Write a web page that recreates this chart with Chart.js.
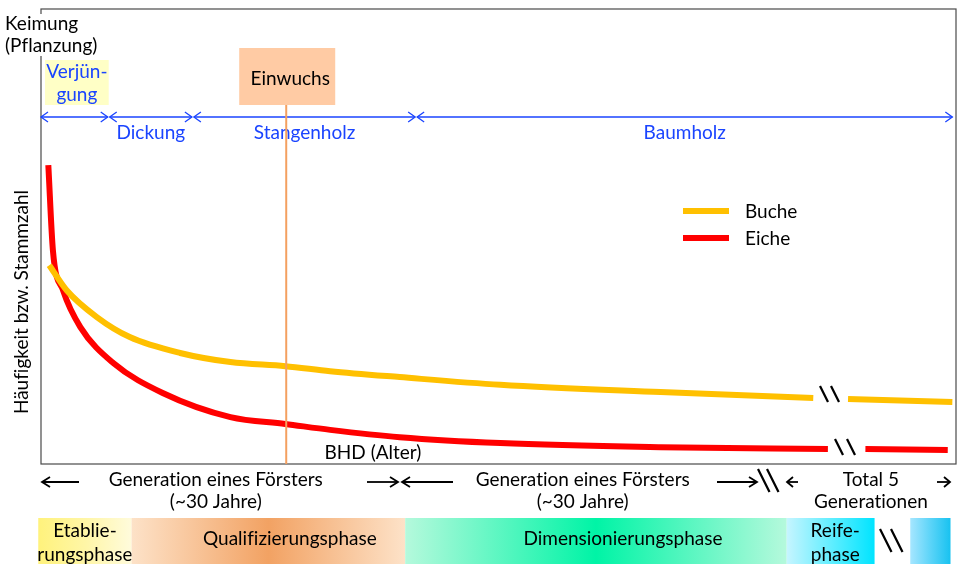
<!DOCTYPE html>
<html>
<head>
<meta charset="utf-8">
<script src="https://cdn.jsdelivr.net/npm/chart.js@4"></script>
<style>
  html, body { margin: 0; padding: 0; background: #fff; }
</style>
</head>
<body>
<canvas id="chart" width="962" height="564"></canvas>
<script>
// x: relative age (0 = Keimung, 100 = right edge), y: relative frequency (0..100)
// null marks the break (\\) in each curve
const xBuche = [0.9, 2.8, 6.1, 9.7, 15.2, 20.7, 26.7, 31.6, 39.2, 50.2, 67.7, 84.4, 86.3, 88.2, 99.6];
const buche  = [43.7, 38.2, 32.3, 27.9, 24.4, 22.4, 21.5, 20.4, 19.1, 17.4, 15.8, 14.5, null, 14.3, 13.6];
const xEiche = [0.8, 1.3, 2.4, 4.3, 7.9, 13.3, 20.7, 26.7, 31.6, 39.2, 50.2, 67.7, 86.0, 88.0, 90.1, 99.1];
const eiche  = [65.7, 47.0, 38.2, 30.1, 22.2, 15.6, 10.3, 8.8, 7.5, 5.9, 4.6, 3.7, 3.3, null, 3.3, 3.1];

// development stages (top, blue arrows) with borders in x units
const stages = ['Verjüngung', 'Dickung', 'Stangenholz', 'Baumholz'];
const stageBounds = [0, 7.4, 16.6, 41.0, 99.6];
const einwuchsX = 26.8;

// forest phases (bottom bars): label, extent, label centre
const phases = ['Etablie-\nrungsphase', 'Qualifizierungsphase', 'Dimensionierungsphase', 'Reife-\nphase', ''];
const phaseBounds = [[-0.3, 9.9], [9.9, 39.8], [39.8, 81.5], [81.5, 91.1], [95.0, 99.4]];
const phaseLabelX = [4.8, 27.2, 63.6, 86.8, 97.2];
const phaseColors = [
  ['#fff27c', '#fff6a6', '#fffbdc'],
  ['#fde2c8', '#f2a263', '#fde2c8'],
  ['#b5f9dc', '#00f4a6', '#b5f9dc'],
  ['#c6f5ff', '#62eeff', '#00e4ff'],
  ['#a6e6ff', '#5cd4f8', '#18c2f0'],
];

// forester generations (below the plot)
const generations = ['Generation eines Försters\n(~30 Jahre)', 'Generation eines Försters\n(~30 Jahre)', 'Total 5\nGenerationen'];

const FONT = '"Lato", "Noto Sans", sans-serif';
const SIZE = '19px ';
const BLUE = '#1a44ff';

function toPoints(xs, ys) {
  return xs.map((x, i) => ({x: x, y: ys[i]}));
}

function chevron(ctx, x, y, dir, w, h) {
  ctx.beginPath();
  ctx.moveTo(x - dir * w, y - h);
  ctx.lineTo(x, y);
  ctx.lineTo(x - dir * w, y + h);
  ctx.stroke();
}

function arrowLine(ctx, x1, x2, y, headLeft, headRight, w, h) {
  ctx.beginPath();
  ctx.moveTo(x1, y);
  ctx.lineTo(x2, y);
  ctx.stroke();
  if (headLeft) chevron(ctx, x1, y, -1, w, h);
  if (headRight) chevron(ctx, x2, y, 1, w, h);
}

function breakMark(ctx, x, y, h, gap) {
  ctx.save();
  ctx.strokeStyle = '#000';
  ctx.lineWidth = 2.2;
  for (const dx of [0, gap]) {
    ctx.beginPath();
    ctx.moveTo(x + dx, y);
    ctx.lineTo(x + dx + h * 0.5, y + h);
    ctx.stroke();
  }
  ctx.restore();
}

function multiText(ctx, text, x, y, lh) {
  const lines = text.split('\n');
  lines.forEach((l, i) => ctx.fillText(l, x, y + i * lh));
}

const decorations = {
  id: 'decorations',
  beforeDatasetsDraw(chart) {
    const ctx = chart.ctx;
    const xs = chart.scales.x;
    const a = chart.chartArea;
    ctx.save();
    ctx.textRendering = 'optimizeSpeed'; // no fi / ti ligatures

    // frame
    ctx.strokeStyle = '#4a4a4a';
    ctx.lineWidth = 1.2;
    ctx.strokeRect(a.left, a.top, a.right - a.left, a.bottom - a.top);

    // Keimung label on the y axis line
    ctx.fillStyle = '#fff';
    ctx.fillRect(3, 14, 100, 42);
    ctx.fillStyle = '#000';
    ctx.font = SIZE + FONT;
    ctx.textAlign = 'left';
    ctx.textBaseline = 'middle';
    ctx.fillText('Keimung', 5, 24);
    ctx.fillText('(Pflanzung)', 5, 46);

    // Verjüngung box
    const v0 = xs.getPixelForValue(stageBounds[0]);
    const v1 = xs.getPixelForValue(stageBounds[1]);
    ctx.fillStyle = '#ffffc6';
    ctx.fillRect(v0 + 4, 60, v1 - v0 - 4, 45);
    ctx.fillStyle = BLUE;
    ctx.textAlign = 'center';
    ctx.fillText('Verjün-', (v0 + v1) / 2 + 2, 72);
    ctx.fillText('gung', (v0 + v1) / 2 + 2, 95);

    // blue stage arrows
    ctx.strokeStyle = BLUE;
    ctx.lineWidth = 1.3;
    for (let i = 0; i < stages.length; i++) {
      const p0 = xs.getPixelForValue(stageBounds[i]) + (i ? 1 : 0);
      const p1 = xs.getPixelForValue(stageBounds[i + 1]) - (i < stages.length - 1 ? 1 : 0);
      arrowLine(ctx, p0, p1, 117, true, true, 7, 5);
      if (i > 0) {
        ctx.fillText(stages[i], (p0 + p1) / 2, 133);
      }
    }

    // Einwuchs box
    const ex = xs.getPixelForValue(einwuchsX);
    ctx.fillStyle = '#ffcba4';
    ctx.fillRect(ex - 47, 48, 96, 57);
    ctx.fillStyle = '#000';
    ctx.fillText('Einwuchs', ex + 4, 79);

    // BHD label
    ctx.fillText('BHD (Alter)', 373, 453);

    // y axis title
    ctx.save();
    ctx.translate(22, 302);
    ctx.rotate(-Math.PI / 2);
    ctx.fillText('Häufigkeit bzw. Stammzahl', 0, 0);
    ctx.restore();

    // legend
    const legend = [['Buche', '#ffc000', 211], ['Eiche', '#ff0000', 238]];
    for (const [name, col, ly] of legend) {
      ctx.strokeStyle = col;
      ctx.lineWidth = 6;
      ctx.beginPath();
      ctx.moveTo(683, ly);
      ctx.lineTo(729, ly);
      ctx.stroke();
      ctx.fillStyle = '#000';
      ctx.textAlign = 'left';
      ctx.fillText(name, 745, ly + 1);
    }

    // generations below the plot
    ctx.textAlign = 'center';
    ctx.fillStyle = '#000';
    const genCenters = [xs.getPixelForValue(19.1), xs.getPixelForValue(59.2), xs.getPixelForValue(90.7)];
    generations.forEach((g, i) => multiText(ctx, g, genCenters[i], 480, 22));
    ctx.strokeStyle = '#000';
    ctx.lineWidth = 1.8;
    arrowLine(ctx, 42, 79, 482, true, false, 8, 5);
    arrowLine(ctx, 367, 398, 482, false, true, 8, 5);
    arrowLine(ctx, 402, 453, 482, true, false, 8, 5);
    arrowLine(ctx, 717, 757, 482, false, true, 8, 5);
    arrowLine(ctx, 787, 798, 482, true, false, 6, 5);
    arrowLine(ctx, 937, 950, 482, false, true, 6, 5);
    breakMark(ctx, 758, 469, 23, 9);

    // phase bars
    phases.forEach((p, i) => {
      const p0 = xs.getPixelForValue(phaseBounds[i][0]);
      const p1 = xs.getPixelForValue(phaseBounds[i][1]);
      const g = ctx.createLinearGradient(p0, 0, p1, 0);
      const c = phaseColors[i];
      g.addColorStop(0, c[0]);
      g.addColorStop(0.5, c[1]);
      g.addColorStop(1, c[2]);
      ctx.fillStyle = g;
      ctx.fillRect(p0, 518, p1 - p0, 46);
      ctx.fillStyle = '#000';
      const lx = xs.getPixelForValue(phaseLabelX[i]);
      if (p.includes('\n')) {
        multiText(ctx, p, lx, 531, 24);
      } else if (p) {
        ctx.fillText(p, lx, 539);
      }
    });
    breakMark(ctx, 880, 529, 23, 11);

    ctx.restore();
  },
  afterDatasetsDraw(chart) {
    const ctx = chart.ctx;
    const xs = chart.scales.x;
    const a = chart.chartArea;
    const ex = xs.getPixelForValue(einwuchsX);
    ctx.save();
    ctx.strokeStyle = '#f4a060';
    ctx.lineWidth = 2;
    ctx.beginPath();
    ctx.moveTo(ex, 105);
    ctx.lineTo(ex, a.bottom);
    ctx.stroke();
    // breaks on the curves
    breakMark(ctx, 820, 386, 16, 11);
    breakMark(ctx, 835, 439, 16, 12);
    ctx.restore();
  }
};

new Chart(document.getElementById('chart'), {
  type: 'line',
  data: {
    datasets: [
      {
        label: 'Buche',
        data: toPoints(xBuche, buche),
        borderColor: '#ffc000',
        borderWidth: 6,
        pointRadius: 0,
        cubicInterpolationMode: 'monotone',
        spanGaps: false,
      },
      {
        label: 'Eiche',
        data: toPoints(xEiche, eiche),
        borderColor: '#ff0000',
        borderWidth: 6,
        pointRadius: 0,
        cubicInterpolationMode: 'monotone',
        spanGaps: false,
      },
    ],
  },
  options: {
    responsive: false,
    animation: false,
    layout: {
      padding: {left: 41, top: 9, right: 6, bottom: 100},
    },
    plugins: {
      legend: {display: false},
      tooltip: {enabled: false},
    },
    scales: {
      x: {type: 'linear', min: 0, max: 100, display: false},
      y: {type: 'linear', min: 0, max: 100, display: false},
    },
  },
  plugins: [decorations],
});
</script>
</body>
</html>
